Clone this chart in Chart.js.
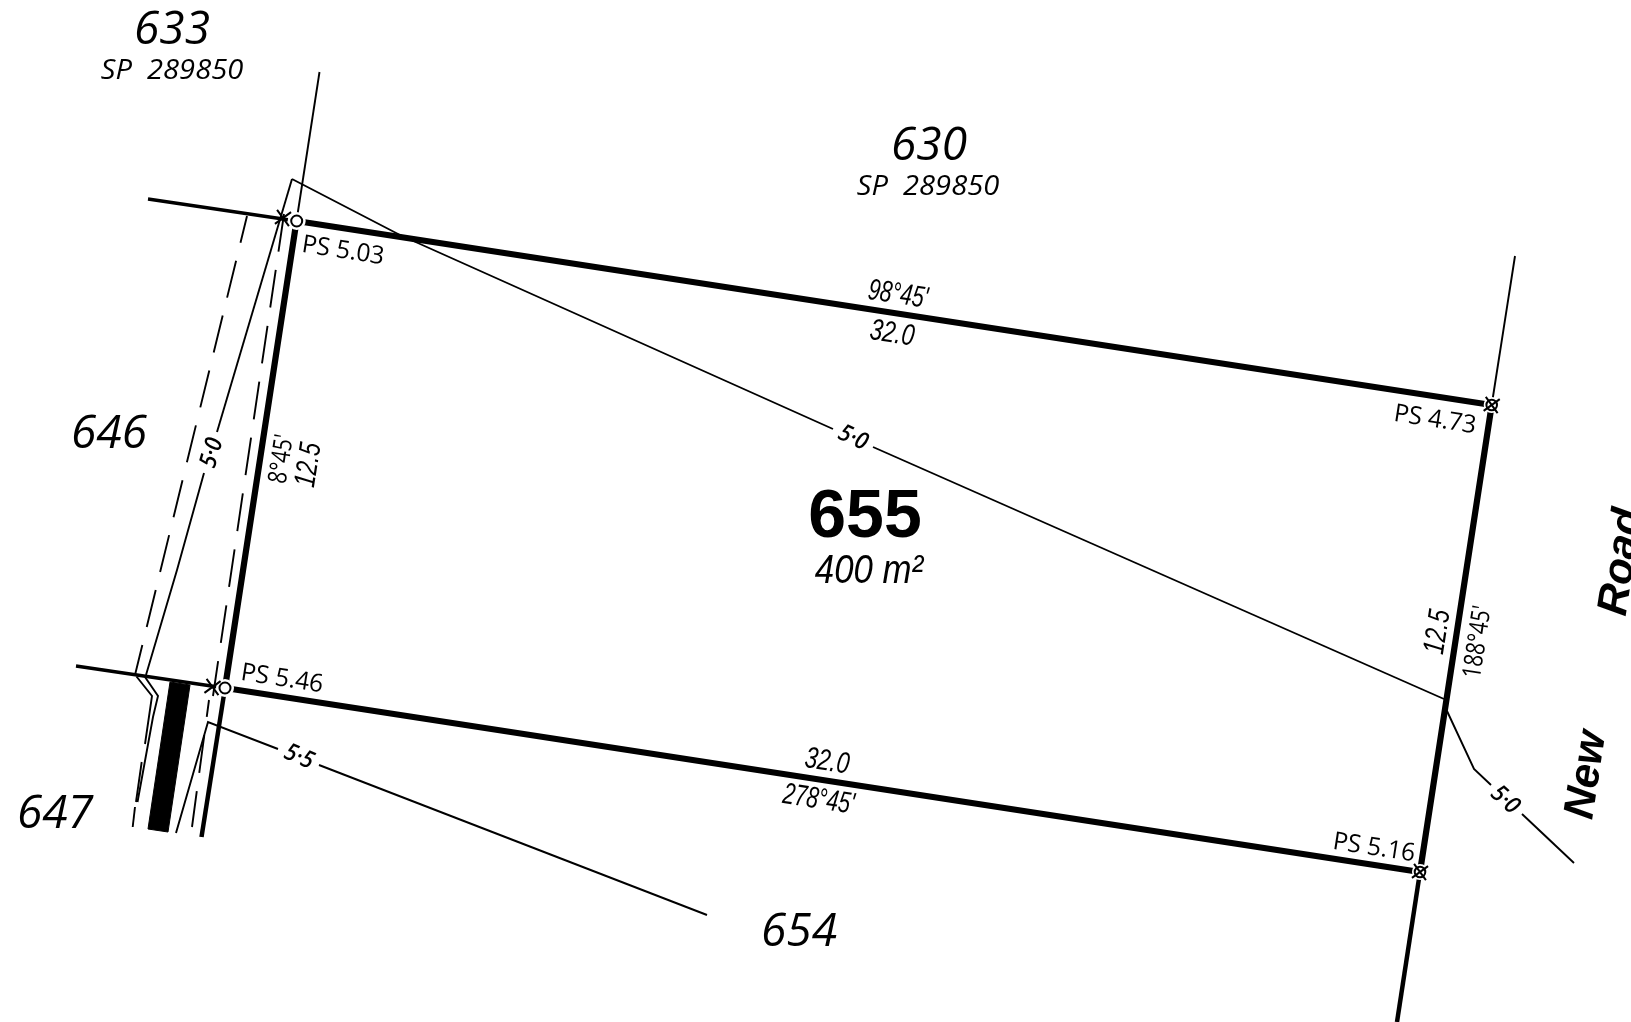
<!DOCTYPE html>
<html>
<head>
<meta charset="utf-8">
<title>Lot 655</title>
<script src="https://cdn.jsdelivr.net/npm/chart.js@4/dist/chart.umd.min.js"></script>
<style>
  html, body { margin: 0; padding: 0; background: #fff; overflow: hidden; }
  canvas { display: block; }
</style>
</head>
<body>
<canvas id="plan" width="1631" height="1022"></canvas>
<script>
// plan coordinates, y runs down the sheet
const lotBoundary = [[296.5, 221], [1491.7, 405], [1420, 872], [225, 688], [296.5, 221]];
const westExtTop = [[148, 199], [296.5, 221]];
const westExtBottom = [[76, 666], [225, 688]];
const southExt = [[225, 688], [201.5, 837]];
const roadExtBottom = [[1420, 872], [1397, 1022]];
const thinExtTop = [[296.5, 221], [319.5, 72]];
const thinExtRoad = [[1491.7, 405], [1515, 256]];

const envelopeTop = [[292, 179], [400, 235], [833, 429]];
const envelopeRoad = [[873, 447], [1444, 699]];
const envelopeWest = [[292, 179], [217, 432]];
const envelopeWestLow = [[204, 473], [177, 570], [146, 675]];
const envelopeSouth = [[176, 833], [208, 722], [278, 749]];
const envelopeSouthFar = [[319, 765], [707, 915]];
const splayRoad = [[1447, 711], [1474, 769], [1491, 785]];
const splayRoadFar = [[1522, 814], [1574, 863]];

const easementOuter = [[247, 216], [135, 675]];
const easementInner = [[284, 214], [213, 696]];
const easementInnerLow = [[209, 700], [192, 827]];
const jogDashed = [[136.5, 676.5], [152, 696], [145, 744]];
const jogDashedLow = [[141.7, 762], [136, 802]];
const jogDashedEnd = [[135, 807], [132.7, 827]];
const jogSolid = [[145, 677], [158, 696], [153, 717], [137.5, 802]];
const driveStrip = [[170, 682], [190, 685], [168, 832], [148, 829], [170, 682]];

const markCircles = [[296.7, 221], [225, 688]];
const markPegs = [[1491.7, 405], [1420, 872]];
const markStars = [[283, 218], [212.5, 687]];

// text, in parallel lists
const labelTexts = ['633', 'SP  289850', '630', 'SP  289850', '646', '647', '654', '655', '400 m²',
  'PS 5.03', 'PS 4.73', 'PS 5.46', 'PS 5.16',
  "98°45'", '32.0', '32.0', "278°45'", "8°45'", '12.5', '12.5', "188°45'",
  '5·0', '5·0', '5·5', '5·0', 'New', 'Road'];
const labelX = [172, 172, 929, 928, 109, 55, 799, 865, 869,
  343, 1435, 282, 1374,
  898, 892, 827, 818.5, 282, 309, 1438, 1478,
  212, 853, 299, 1505, 1587, 1622];
const labelY = [31, 71, 147, 187, 435, 815, 933, 518, 572,
  251, 420, 679, 848,
  295, 334, 762, 800, 459, 465, 632, 642,
  453, 438, 757, 800, 775, 562];
const labelAngle = [0, 0, 0, 0, 0, 0, 0, 0, 0,
  8.75, 8.75, 8.75, 8.75,
  8.75, 8.75, 8.75, 8.75, -81.25, -81.25, -81.25, -81.25,
  -74, 25, 23, 42, -81.25, -81.25];
const labelKind = ['lot', 'sp', 'lot', 'sp', 'lot', 'lot', 'lot', 'main', 'area',
  'ps', 'ps', 'ps', 'ps',
  'bear', 'dim', 'dim', 'bear', 'brg', 'dim', 'dim', 'brg',
  'off', 'off', 'off', 'off', 'road', 'road'];

const kinds = {
  lot: { font: 'italic 500 46px "Open Sans"', sx: 1 },
  sp: { font: 'italic 28px "Open Sans"', sx: 1.04 },
  main: { font: 'bold 68px "Liberation Sans"', sx: 1 },
  area: { font: 'italic 40px "Liberation Sans"', sx: 0.87 },
  ps: { font: '400 25px "Open Sans"', sx: 0.98 },
  dim: { font: 'italic 30px "Liberation Sans"', sx: 0.76 },
  bear: { font: 'italic 30px "Liberation Sans"', sx: 0.71 },
  brg: { font: '500 26px "Open Sans"', sx: 0.8 },
  off: { font: 'italic 600 24px "Open Sans"', sx: 0.9 },
  road: { font: 'italic bold 43px "Liberation Sans"', sx: 1 }
};

const planLabels = {
  id: 'planLabels',
  afterDatasetsDraw(chart) {
    const { ctx, scales } = chart;
    ctx.save();
    ctx.fillStyle = '#000';
    ctx.textAlign = 'center';
    ctx.textBaseline = 'middle';
    labelTexts.forEach((text, i) => {
      const kind = kinds[labelKind[i]];
      ctx.save();
      ctx.translate(scales.x.getPixelForValue(labelX[i]), scales.y.getPixelForValue(labelY[i]));
      ctx.rotate(labelAngle[i] * Math.PI / 180);
      ctx.scale(kind.sx, 1);
      ctx.font = kind.font;
      ctx.fillText(text, 0, 0);
      ctx.restore();
    });
    ctx.restore();
  }
};

function line(data, width, extra) {
  return Object.assign({
    data: data,
    showLine: true,
    borderColor: '#000',
    backgroundColor: '#000',
    borderWidth: width,
    pointRadius: 0,
    borderCapStyle: 'butt',
    borderJoinStyle: 'miter',
    tension: 0
  }, extra);
}

function marks(data, style, radius, extra) {
  return Object.assign({
    data: data,
    showLine: false,
    pointStyle: style,
    pointRadius: radius,
    pointBackgroundColor: '#fff',
    pointBorderColor: '#000',
    pointBorderWidth: 2,
    pointRotation: 8.75
  }, extra);
}

const dash = [38, 18.5];
const thin = 1.9;

// first dataset ends up on top
new Chart(document.getElementById('plan'), {
  type: 'scatter',
  data: {
    datasets: [
      marks(markStars, 'crossRot', 10),
      marks(markPegs, 'crossRot', 10),
      marks(markCircles, 'circle', 5.5),
      marks(markPegs, 'circle', 5.3),
      marks(markCircles, 'circle', 9, { pointBorderWidth: 0, pointBorderColor: '#fff' }),
      marks(markPegs, 'circle', 8, { pointBorderWidth: 0, pointBorderColor: '#fff' }),
      line(lotBoundary, 6.2),
      line(westExtTop, 3.6),
      line(westExtBottom, 3.6),
      line(southExt, 4.5),
      line(roadExtBottom, 4.5),
      line(thinExtTop, thin),
      line(thinExtRoad, thin),
      line(envelopeTop, thin),
      line(envelopeRoad, thin),
      line(envelopeWest, thin),
      line(envelopeWestLow, thin),
      line(envelopeSouth, thin),
      line(envelopeSouthFar, thin),
      line(splayRoad, thin),
      line(splayRoadFar, thin),
      line(easementOuter, thin, { borderDash: dash, borderDashOffset: 10.5 }),
      line(easementInner, thin, { borderDash: dash }),
      line(easementInnerLow, thin, { borderDash: dash, borderDashOffset: 21 }),
      line(jogDashed, thin),
      line(jogDashedLow, thin),
      line(jogDashedEnd, thin),
      line(jogSolid, thin),
      line(driveStrip, 1, { fill: 'shape' })
    ]
  },
  options: {
    responsive: false,
    animation: false,
    devicePixelRatio: 1,
    layout: { padding: 0, autoPadding: false },
    plugins: { legend: { display: false }, tooltip: { enabled: false } },
    scales: {
      x: { type: 'linear', display: false, min: 0, max: 1631 },
      y: { type: 'linear', display: false, min: 0, max: 1022, reverse: true }
    }
  },
  plugins: [planLabels]
});
</script>
</body>
</html>
